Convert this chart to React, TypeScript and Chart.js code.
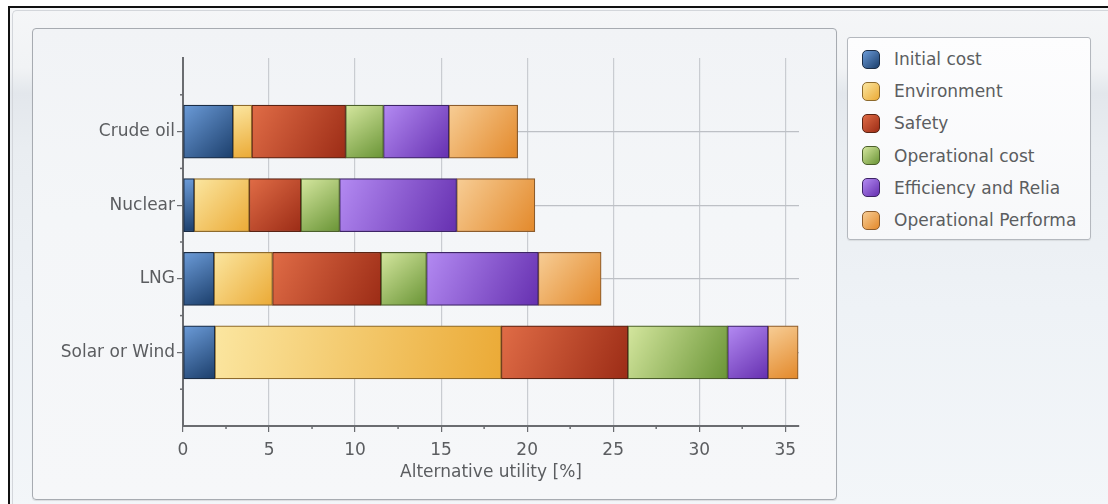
import React, { useEffect, useRef } from "react";
import { Chart, registerables } from "chart.js";

Chart.register(...registerables);

// ---- Data ----
const categories = ["Crude oil", "Nuclear", "LNG", "Solar or Wind"];
const seriesNames = [
  "Initial cost",
  "Environment",
  "Safety",
  "Operational cost",
  "Efficiency and Relia",
  "Operational Performa",
];
const initialCost = [2.9, 0.65, 1.8, 1.85];
const environment = [1.1, 3.2, 3.4, 16.65];
const safety = [5.45, 3.0, 6.3, 7.35];
const operationalCost = [2.2, 2.25, 2.65, 5.8];
const efficiency = [3.8, 6.8, 6.5, 2.35];
const operationalPerf = [4.0, 4.55, 3.65, 1.75];
const xTickValues = [0, 5, 10, 15, 20, 25, 30, 35];
const xMinorTickValues = [2.5, 7.5, 12.5, 17.5, 22.5, 27.5, 32.5];
const xMax = 35.8;
const xTitle = "Alternative utility [%]";

const seriesValues = [initialCost, environment, safety, operationalCost, efficiency, operationalPerf];

// light, dark, border
const seriesColors: [string, string, string][] = [
  ["#6b9bd8", "#1c3f6c", "#1b2d45"],
  ["#fbe6a0", "#ebaa36", "#8d6a2c"],
  ["#e06c46", "#9c2c16", "#5a2313"],
  ["#d4e69e", "#6a9536", "#4b5f2b"],
  ["#b38af2", "#6630b0", "#3d2466"],
  ["#f7cd95", "#e3892b", "#8c5c2c"],
];

const FONT = "'DejaVu Sans', Verdana, sans-serif";
const TEXT = "#5b5d60";

// padded category list: empty slot above and below
const yLabels = ["", ...categories, ""];

const minorTicks = {
  id: "minorTicks",
  afterDraw(chart: any) {
    const { ctx } = chart;
    const x = chart.scales.x;
    const y = chart.scales.y;
    ctx.save();
    ctx.strokeStyle = "#6a6c70";
    ctx.lineWidth = 1.5;
    for (const v of xMinorTickValues) {
      const px = x.getPixelForValue(v);
      ctx.beginPath();
      ctx.moveTo(px, y.bottom);
      ctx.lineTo(px, y.bottom + 3);
      ctx.stroke();
    }
    for (let i = 0; i < yLabels.length - 1; i++) {
      const py = (y.getPixelForValue(i) + y.getPixelForValue(i + 1)) / 2;
      ctx.beginPath();
      ctx.moveTo(x.left, py);
      ctx.lineTo(x.left - 3, py);
      ctx.stroke();
    }
    ctx.restore();
  },
};

function makeBg(si: number) {
  return (context: any) => {
    const chart = context.chart;
    const [light, dark] = seriesColors[si];
    const xs = chart.scales?.x;
    const ys = chart.scales?.y;
    const di = context.dataIndex;
    if (!xs || !ys || di == null || di < 1 || di > categories.length) return dark;
    const ci = di - 1;
    let start = 0;
    for (let k = 0; k < si; k++) start += seriesValues[k][ci];
    const end = start + seriesValues[si][ci];
    const x0 = xs.getPixelForValue(start);
    const x1 = xs.getPixelForValue(end);
    const yc = ys.getPixelForValue(di);
    const g = chart.ctx.createLinearGradient(x0, yc - 26, x1, yc + 26);
    g.addColorStop(0, light);
    g.addColorStop(1, dark);
    return g;
  };
}

function ChartView() {
  const ref = useRef<HTMLCanvasElement | null>(null);
  useEffect(() => {
    if (!ref.current) return;
    const chart = new Chart(ref.current, {
      type: "bar",
      data: {
        labels: yLabels,
        datasets: seriesNames.map((name, si) => ({
          label: name,
          data: [null, ...seriesValues[si], null],
          backgroundColor: makeBg(si),
          borderColor: seriesColors[si][2],
          borderWidth: 1.2,
          borderSkipped: false,
          barThickness: 53,
        })),
      },
      options: {
        indexAxis: "y",
        animation: false,
        responsive: false,
        maintainAspectRatio: false,
        layout: { padding: { top: 29, right: 36, bottom: 13, left: 0 } },
        plugins: {
          legend: { display: false },
          tooltip: { enabled: false },
        },
        scales: {
          x: {
            type: "linear",
            stacked: true,
            min: 0,
            max: xMax,
            afterBuildTicks: (s: any) => {
              s.ticks = xTickValues.map((v) => ({ value: v }));
            },
            ticks: {
              color: TEXT,
              font: { family: FONT, size: 17 },
              padding: 8,
            },
            grid: {
              color: (c: any) => (c.tick && c.tick.value === 0 ? "transparent" : "#c9ccd1"),
              tickColor: "#6a6c70",
              tickLength: 6,
              lineWidth: 1.2,
            },
            border: { display: true, color: "#6a6c70", width: 2 },
            title: {
              display: true,
              text: xTitle,
              color: TEXT,
              font: { family: FONT, size: 17 },
              padding: { top: 2, bottom: 3 },
            },
            afterFit: (s: any) => {
              s.height = 60;
            },
          },
          y: {
            type: "category",
            stacked: true,
            offset: false,
            ticks: {
              color: TEXT,
              font: { family: FONT, size: 17 },
              padding: 2,
              autoSkip: false,
            },
            grid: {
              offset: false,
              color: (c: any) =>
                c.index === 0 || c.index === yLabels.length - 1 ? "transparent" : "#bdc0c5",
              tickColor: (c: any) =>
                c.index === 0 || c.index === yLabels.length - 1 ? "transparent" : "#6a6c70",
              tickLength: 6,
              lineWidth: 1.2,
            },
            border: { display: true, color: "#6a6c70", width: 2 },
            afterFit: (s: any) => {
              s.width = 150;
            },
          },
        },
      },
      plugins: [minorTicks],
    });
    return () => chart.destroy();
  }, []);
  return <canvas ref={ref} width={802} height={470} style={{ display: "block", width: 802, height: 470 }} />;
}

function Legend() {
  return (
    <div
      style={{
        position: "absolute",
        left: 847,
        top: 37,
        width: 244,
        height: 203,
        boxSizing: "border-box",
        border: "1px solid #b4b8be",
        borderRadius: 3,
        background: "linear-gradient(#fdfdfe, #f7f8fa)",
        boxShadow: "0 1px 1px rgba(0,0,0,0.08)",
      }}
    >
      {seriesNames.map((name, i) => (
        <div
          key={name}
          style={{
            position: "absolute",
            left: 14,
            top: 10 + i * 32.2,
            height: 22,
            display: "flex",
            alignItems: "center",
          }}
        >
          <div
            style={{
              width: 18,
              height: 19,
              borderRadius: 5,
              border: `1.5px solid ${seriesColors[i][2]}`,
              background: `linear-gradient(135deg, ${seriesColors[i][0]}, ${seriesColors[i][1]})`,
              boxSizing: "border-box",
            }}
          />
          <span
            style={{
              marginLeft: 14,
              fontFamily: FONT,
              fontSize: 17,
              color: TEXT,
              whiteSpace: "nowrap",
            }}
          >
            {name}
          </span>
        </div>
      ))}
    </div>
  );
}

export default function App() {
  return (
    <div
      style={{
        position: "absolute",
        left: 0,
        top: 0,
        width: 1108,
        height: 504,
        overflow: "hidden",
        background: "#ffffff",
      }}
    >
      {/* outer frame */}
      <div
        style={{
          position: "absolute",
          left: 8,
          top: 6,
          width: 1100,
          height: 498,
          borderTop: "2px solid #111",
          borderLeft: "2px solid #111",
          boxSizing: "border-box",
          background:
            "linear-gradient(180deg, #f5f6f8 0px, #f1f3f5 60px, #e3e7ec 85px, #e9edf1 140px, #eef2f6 300px, #f3f6f9 504px)",
        }}
      >
        <div
          style={{
            position: "absolute",
            left: 2,
            top: 2,
            right: -4,
            bottom: -4,
            borderTop: "1px solid #d3d6db",
            borderLeft: "1px solid #d3d6db",
            borderTopLeftRadius: 5,
          }}
        />
      </div>
      {/* chart panel */}
      <div
        style={{
          position: "absolute",
          left: 32,
          top: 28,
          width: 805,
          height: 472,
          boxSizing: "border-box",
          border: "1px solid #a7abb1",
          borderRadius: 4,
          background: "linear-gradient(180deg, #f1f3f6 0%, #f4f6f8 40%, #f6f7f9 100%)",
          boxShadow: "0 1px 1px rgba(0,0,0,0.1)",
        }}
      >
        <ChartView />
      </div>
      <Legend />
    </div>
  );
}
